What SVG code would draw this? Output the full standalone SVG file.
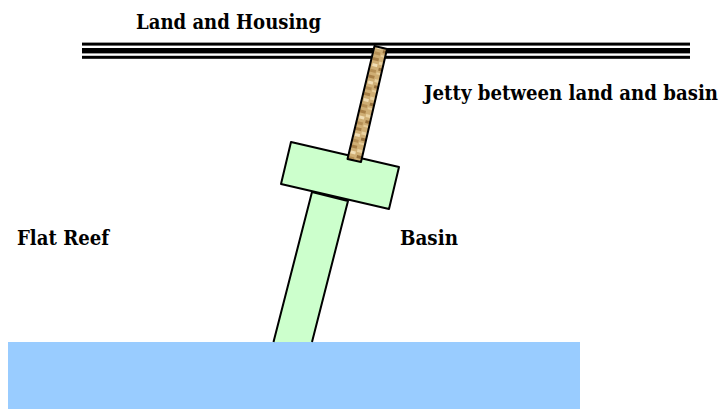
<svg xmlns="http://www.w3.org/2000/svg" width="720" height="409" viewBox="0 0 720 409">
<style>
.l{font-family:"DejaVu Serif Condensed","DejaVu Serif","Liberation Serif",serif;font-weight:bold;font-size:20px;fill:#000}
.s{stroke:#000;stroke-width:2;stroke-linejoin:round}
.g{fill:#ccffcc}
</style>
<defs>
<pattern id="wood" patternUnits="userSpaceOnUse" width="15" height="18" patternTransform="rotate(14)">
<rect width="15" height="18" fill="#cfae74"/>
<rect x="1" y="1" width="6" height="3" fill="#a98148"/>
<rect x="8" y="4" width="6" height="3" fill="#ead2a0"/>
<rect x="2" y="7" width="5" height="3" fill="#f0ddb4"/>
<rect x="9" y="10" width="5" height="3" fill="#96703c"/>
<rect x="1" y="13" width="6" height="3" fill="#b58f55"/>
<rect x="8" y="15" width="5" height="2" fill="#e6cd9a"/>
</pattern>
</defs>
<rect id="sea" x="8" y="342" width="572" height="67" fill="#99ccff"/>
<g id="land">
<rect x="82" y="42.600" width="608" height="3" fill="#000"/>
<rect x="82" y="48" width="608" height="5.400" fill="#000"/>
<rect x="82" y="55.800" width="608" height="3" fill="#000"/>
</g>
<g id="channel"><path class="g s" d="M273.500 342L312 192L348 201L312 342"/></g>
<g id="basin"><polygon class="g s" points="291,142 399,167 389,209 281,184"/></g>
<g id="jetty"><polygon class="s" fill="url(#wood)" points="374.500,46 387,49 361,162 347.500,159"/></g>
<g id="labels">
<text class="l" x="136" y="29" textLength="185" lengthAdjust="spacingAndGlyphs">Land and Housing</text>
<text class="l" x="424" y="100" textLength="294" lengthAdjust="spacingAndGlyphs">Jetty between land and basin</text>
<text class="l" x="17" y="245" textLength="92" lengthAdjust="spacingAndGlyphs">Flat Reef</text>
<text class="l" x="400" y="245" textLength="58" lengthAdjust="spacingAndGlyphs">Basin</text>
</g>
</svg>
